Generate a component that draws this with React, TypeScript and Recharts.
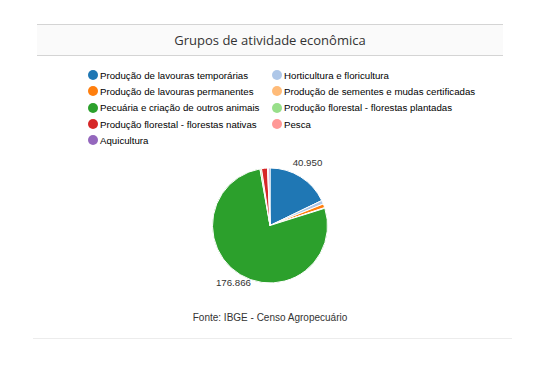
import React from 'react';
import { PieChart, Pie, Cell, Legend } from 'recharts';

const categories = [
  'Produção de lavouras temporárias',
  'Horticultura e floricultura',
  'Produção de lavouras permanentes',
  'Produção de sementes e mudas certificadas',
  'Pecuária e criação de outros animais',
  'Produção florestal - florestas plantadas',
  'Produção florestal - florestas nativas',
  'Pesca',
  'Aquicultura',
];
const values = [40950, 2400, 2500, 400, 176866, 1000, 3800, 700, 900];
const colors = ['#1f77b4', '#aec7e8', '#ff7f0e', '#ffbb78', '#2ca02c', '#98df8a', '#d62728', '#ff9896', '#9467bd'];
const title = 'Grupos de atividade econômica';
const source = 'Fonte: IBGE - Censo Agropecuário';

const data = categories.map((name, i) => ({ name, value: values[i] }));
const total = values.reduce((a, b) => a + b, 0);
const fmt = (v: number) => v.toLocaleString('pt-BR');

const RAD = Math.PI / 180;
const renderLabel = (props: any) => {
  const { cx, cy, midAngle, outerRadius, value } = props;
  if (value / total < 0.1) return null;
  const r = outerRadius + 13;
  const x = cx + r * Math.cos(-midAngle * RAD);
  const y = cy + r * Math.sin(-midAngle * RAD) - 3;
  return (
    <text x={x} y={y} textAnchor="middle" dominantBaseline="central" fontSize={9.7} fill="#333" fontFamily="Arial, 'Liberation Sans', sans-serif">
      {fmt(value)}
    </text>
  );
};

const LegendContent = () => (
  <div style={{ display: 'grid', gridTemplateColumns: '184px 210px', fontFamily: "Arial, 'Liberation Sans', sans-serif", fontSize: 9.7, color: '#000' }}>
    {categories.map((name, i) => (
      <div key={name} style={{ display: 'flex', alignItems: 'center', height: 16.3, whiteSpace: 'nowrap' }}>
        <span style={{ display: 'inline-block', flexShrink: 0, width: 10, height: 10, borderRadius: 5, background: colors[i], marginRight: 2 }} />
        <span>{name}</span>
      </div>
    ))}
  </div>
);

export default function App() {
  return (
    <div style={{ position: 'absolute', left: 0, top: 0, width: 535, height: 365, background: '#fff' }}>
      <div style={{ position: 'absolute', left: 37, top: 24, width: 466, height: 30, background: '#fafafa', borderTop: '1px solid #d4d4d4', borderBottom: '1px solid #d4d4d4', display: 'flex', alignItems: 'center', justifyContent: 'center', fontFamily: "'Open Sans', sans-serif", fontSize: 13, color: '#333' }}>
        {title}
      </div>
      <div style={{ position: 'absolute', left: 0, top: 0 }}>
        <PieChart width={535} height={365} margin={{ top: 0, right: 0, bottom: 0, left: 0 }}>
          <Legend
            layout="horizontal"
            verticalAlign="middle"
            align="center"
            content={<LegendContent />}
            wrapperStyle={{ position: 'absolute', top: 67, left: 88, width: 420 }}
          />
          <Pie
            data={data}
            dataKey="value"
            nameKey="name"
            cx={270}
            cy={225.5}
            outerRadius={57.5}
            startAngle={90}
            endAngle={-270}
            stroke="#fff"
            strokeWidth={1}
            label={renderLabel}
            labelLine={false}
            isAnimationActive={false}
          >
            {data.map((d, i) => (
              <Cell key={d.name} fill={colors[i]} />
            ))}
          </Pie>
        </PieChart>
      </div>
      <div style={{ position: 'absolute', left: 0, top: 311, width: 540, textAlign: 'center', fontFamily: "Arial, 'Liberation Sans', sans-serif", fontSize: 10, color: '#333', lineHeight: '14px' }}>
        {source}
      </div>
      <div style={{ position: 'absolute', left: 33, top: 338, width: 479, height: 1, background: '#ececec' }} />
    </div>
  );
}
